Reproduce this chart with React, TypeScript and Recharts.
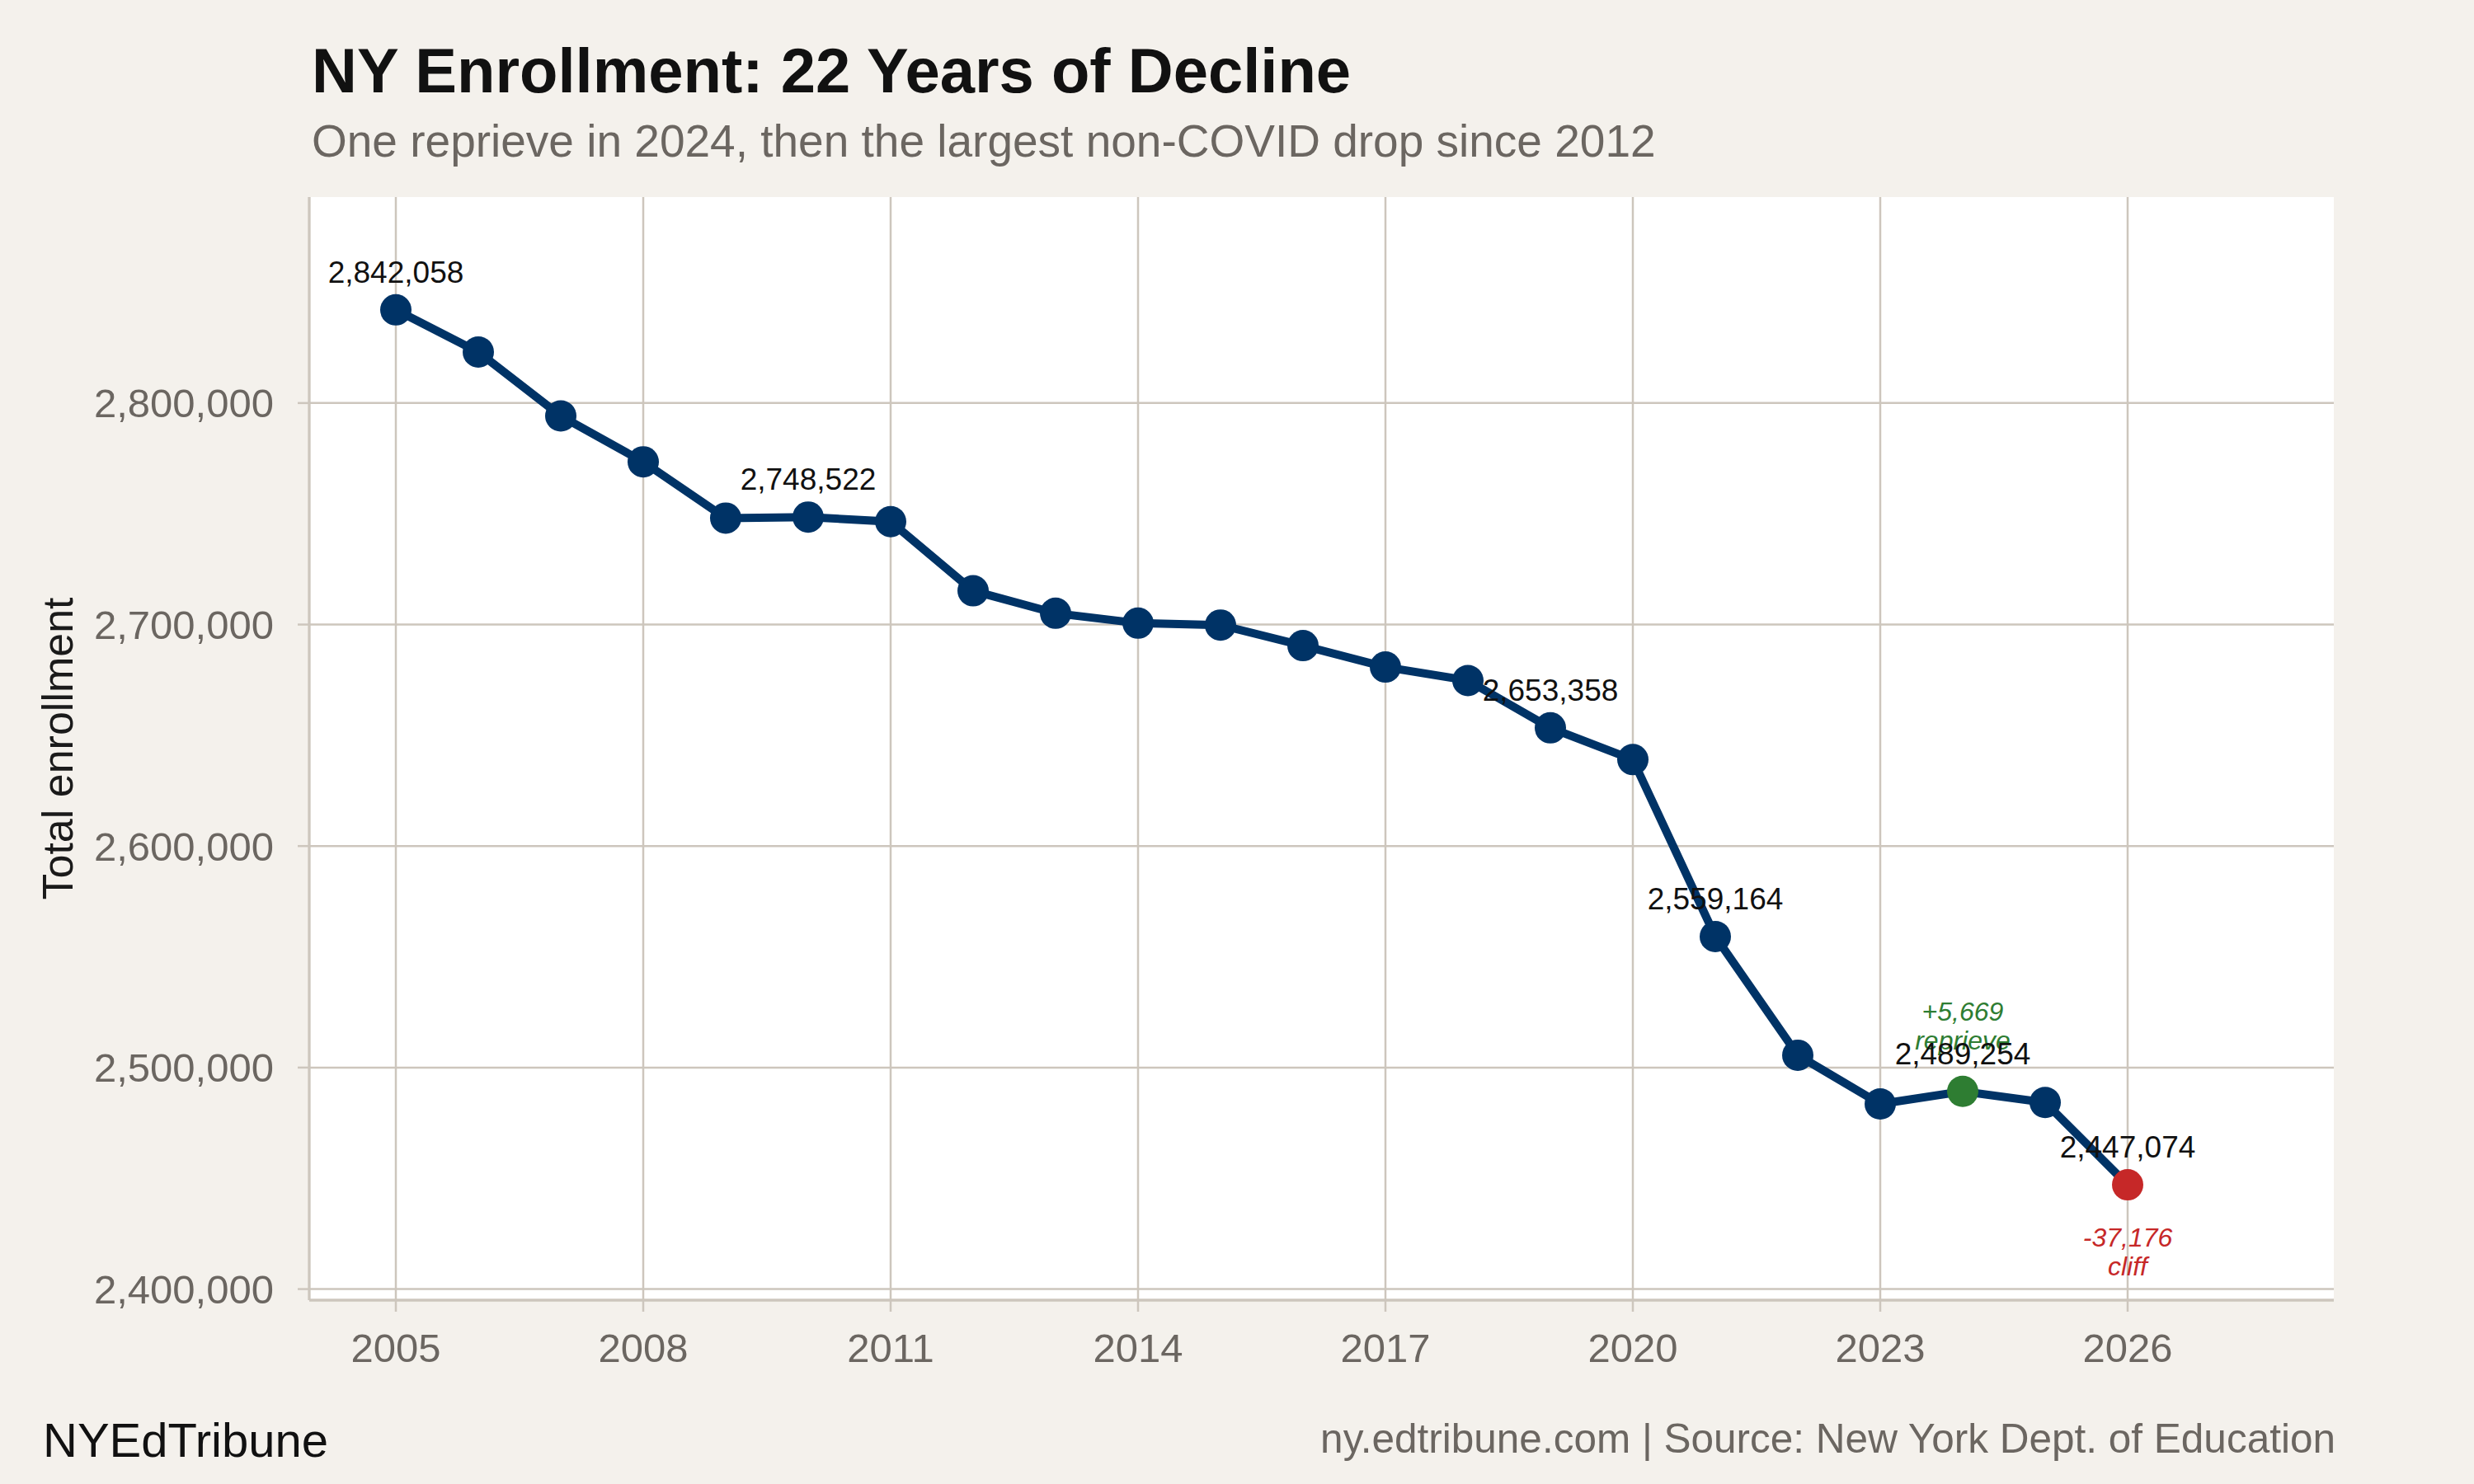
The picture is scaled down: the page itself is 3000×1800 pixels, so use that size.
import React from 'react';
import { LineChart, Line, XAxis, YAxis, CartesianGrid, LabelList } from 'recharts';

const years = [
    2005, 2006, 2007, 2008, 2009, 2010, 2011, 2012, 2013, 2014, 2015,
    2016, 2017, 2018, 2019, 2020, 2021, 2022, 2023, 2024, 2025, 2026
];
const enrollment = [
    2842058, 2823050, 2794160, 2773460, 2748070, 2748522, 2746470, 2715240,
    2705090, 2700630, 2699770, 2690480, 2680820, 2674730, 2653358, 2639030,
    2559164, 2505580, 2483585, 2489254, 2484250, 2447074
];
const labeledYears = [2005, 2010, 2019, 2021, 2024, 2026];
const xTicks = [2005, 2008, 2011, 2014, 2017, 2020, 2023, 2026];
const yTicks = [2400000, 2500000, 2600000, 2700000, 2800000];
const reprieveYear = 2024;
const cliffYear = 2026;

const FONT = '"Liberation Sans", Arial, Helvetica, sans-serif';
const BG = '#f4f1ec';
const GRID = '#cdc6bd';
const NAVY = '#003366';
const GREEN = '#2e7d32';
const RED = '#c62828';
const GRAY_TEXT = '#6b6661';

const data = years.map((year, i) => ({ year, enrollment: enrollment[i] }));

const fmt = (v: number) => v.toLocaleString('en-US');

const change = (year: number) => {
    const i = years.indexOf(year);
    return enrollment[i] - enrollment[i - 1];
};

const dotColor = (year: number) => {
    if (year === reprieveYear) return GREEN;
    if (year === cliffYear) return RED;
    return NAVY;
};

const renderDot = (props: any) => {
    const { cx, cy, payload, index } = props;
    return <circle key={`dot-${index}`} cx={cx} cy={cy} r={19} fill={dotColor(payload.year)} />;
};

const renderValueLabel = (props: any) => {
    const { x, y, value, index } = props;
    if (!labeledYears.includes(years[index])) return null;
    return (
        <text x={x} y={y - 33} textAnchor="middle" fontSize={37} fontFamily={FONT} fill="#111">
            {fmt(value)}
        </text>
    );
};

const renderAnnotation = (props: any) => {
    const { x, y, index } = props;
    const year = years[index];
    if (year === reprieveYear) {
        return (
            <g>
                <text x={x} y={y - 86} textAnchor="middle" fontSize={32} fontStyle="italic" fontFamily={FONT} fill={GREEN}>
                    {`+${fmt(change(year))}`}
                </text>
                <text x={x} y={y - 51} textAnchor="middle" fontSize={32} fontStyle="italic" fontFamily={FONT} fill={GREEN}>
                    reprieve
                </text>
            </g>
        );
    }
    if (year === cliffYear) {
        return (
            <g>
                <text x={x} y={y + 75} textAnchor="middle" fontSize={32} fontStyle="italic" fontFamily={FONT} fill={RED}>
                    {fmt(change(year))}
                </text>
                <text x={x} y={y + 110} textAnchor="middle" fontSize={32} fontStyle="italic" fontFamily={FONT} fill={RED}>
                    cliff
                </text>
            </g>
        );
    }
    return null;
};

const App: React.FC = () => {
    return (
        <div style={{
            position: 'absolute',
            left: 0,
            top: 0,
            width: 3000,
            height: 1800,
            background: BG,
            fontFamily: FONT
        }}>
            <LineChart
                width={3000}
                height={1800}
                data={data}
                margin={{ top: 239, right: 170, bottom: 123, left: 75 }}
            >
                <CartesianGrid fill="#ffffff" stroke={GRID} strokeWidth={2.5} syncWithTicks />
                <XAxis
                    dataKey="year"
                    type="number"
                    domain={[2003.95, 2028.5]}
                    ticks={xTicks}
                    interval={0}
                    height={100}
                    tickSize={14}
                    tickMargin={26}
                    axisLine={{ stroke: GRID, strokeWidth: 3.3 }}
                    tickLine={{ stroke: GRID, strokeWidth: 2.5 }}
                    tick={{ fill: GRAY_TEXT, fontSize: 49, fontFamily: FONT }}
                />
                <YAxis
                    type="number"
                    domain={[2395000, 2893000]}
                    ticks={yTicks}
                    interval={0}
                    width={300}
                    tickSize={14}
                    tickMargin={29}
                    tickFormatter={fmt}
                    axisLine={{ stroke: GRID, strokeWidth: 3.3 }}
                    tickLine={{ stroke: GRID, strokeWidth: 2.5 }}
                    tick={{ fill: GRAY_TEXT, fontSize: 49, fontFamily: FONT }}
                />
                <Line
                    dataKey="enrollment"
                    type="linear"
                    stroke={NAVY}
                    strokeWidth={10}
                    dot={renderDot}
                    activeDot={false}
                    isAnimationActive={false}
                >
                    <LabelList dataKey="enrollment" content={renderAnnotation} />
                    <LabelList dataKey="enrollment" content={renderValueLabel} />
                </Line>
            </LineChart>

            {/* titles, axis title and footer */}
            <svg
                width={3000}
                height={1800}
                style={{ position: 'absolute', left: 0, top: 0, pointerEvents: 'none' }}
            >
                <text x={378} y={112} fontSize={76} fontWeight={700} fontFamily={FONT} fill="#111">
                    NY Enrollment: 22 Years of Decline
                </text>
                <text x={378} y={190} fontSize={55} fontFamily={FONT} fill={GRAY_TEXT}>
                    One reprieve in 2024, then the largest non-COVID drop since 2012
                </text>
                <text
                    transform="translate(88, 908) rotate(-90)"
                    textAnchor="middle"
                    fontSize={52}
                    fontFamily={FONT}
                    fill="#1a1a1a"
                >
                    Total enrollment
                </text>
                <text x={52} y={1767} fontSize={58} fontFamily={FONT} fill="#111">
                    NYEdTribune
                </text>
                <text x={2832} y={1762} textAnchor="end" fontSize={49.5} fontFamily={FONT} fill={GRAY_TEXT}>
                    ny.edtribune.com | Source: New York Dept. of Education
                </text>
            </svg>
        </div>
    );
};

export default App;
